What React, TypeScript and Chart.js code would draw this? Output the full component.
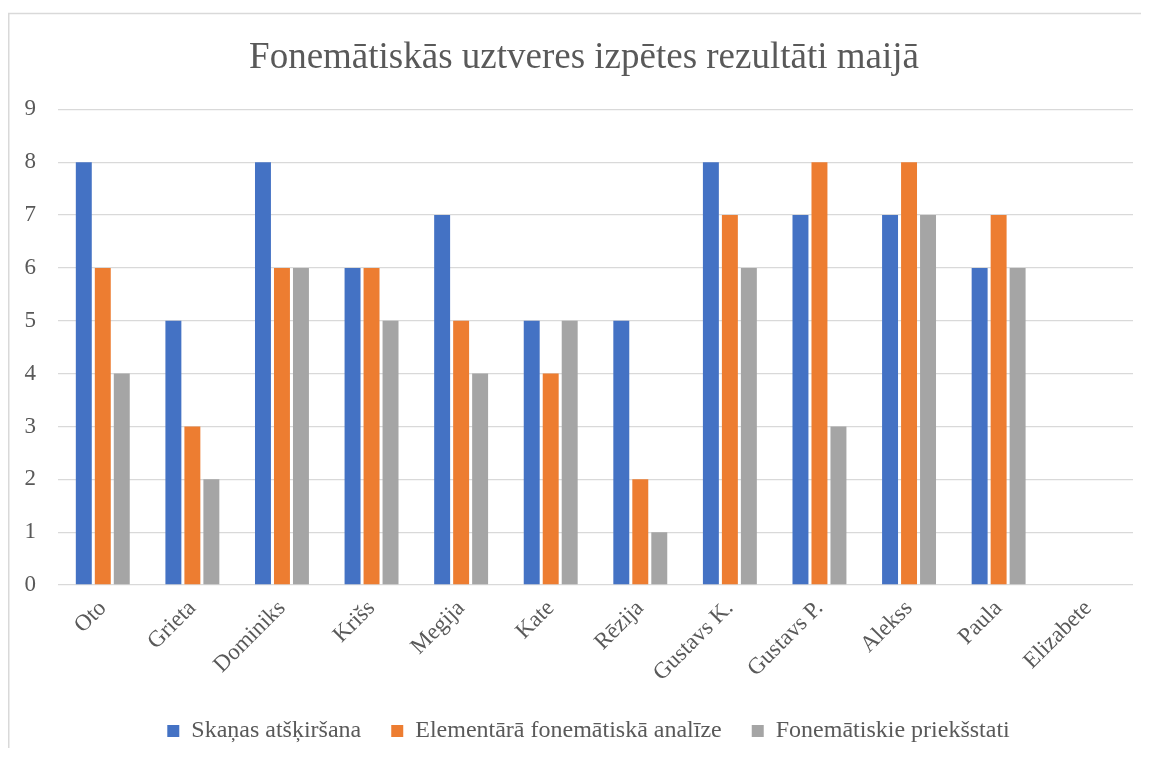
import React, { useEffect, useRef } from "react";
import { Chart, registerables } from "chart.js";

Chart.register(...registerables);

const titleText = "Fonemātiskās uztveres izpētes rezultāti maijā";
const categories = [
  "Oto",
  "Grieta",
  "Dominiks",
  "Krišs",
  "Megija",
  "Kate",
  "Rēzija",
  "Gustavs K.",
  "Gustavs P.",
  "Alekss",
  "Paula",
  "Elizabete",
];
const seriesNames = [
  "Skaņas atšķiršana",
  "Elementārā fonemātiskā analīze",
  "Fonemātiskie priekšstati",
];
const skanasAtskirsana = [8, 5, 8, 6, 7, 5, 5, 8, 7, 7, 6, null];
const elementaraAnalize = [6, 3, 6, 6, 5, 4, 2, 7, 8, 8, 7, null];
const prieksstati = [4, 2, 6, 5, 4, 5, 1, 6, 3, 7, 6, null];
const yMin = 0;
const yMax = 9;
const yStep = 1;

const colors = ["#4472C4", "#ED7D31", "#A5A5A5"];
const textColor = "#595959";
const gridColor = "#D9D9D9";
const fontFamily = "'Liberation Serif', 'Times New Roman', serif";

const framePlugin = {
  id: "frame",
  afterLayout(chart: any) {
    // shift the title and legend blocks to the centre used in the original
    if (chart.titleBlock) {
      chart.titleBlock.left += 13.5;
      chart.titleBlock.right += 13.5;
    }
    if (chart.legend) {
      chart.legend.left += 18;
      chart.legend.right += 18;
    }
  },
  beforeDraw(chart: any) {
    const { ctx, width, height } = chart;
    ctx.save();
    ctx.fillStyle = "#ffffff";
    ctx.fillRect(0, 0, width, height);
    ctx.strokeStyle = gridColor;
    ctx.lineWidth = 1.5;
    ctx.beginPath();
    ctx.moveTo(0.75, height);
    ctx.lineTo(0.75, 5.5);
    ctx.lineTo(width, 5.5);
    ctx.stroke();
    ctx.restore();
  },
};

export default function App() {
  const canvasRef = useRef<HTMLCanvasElement | null>(null);

  useEffect(() => {
    if (!canvasRef.current) return;
    const values = [skanasAtskirsana, elementaraAnalize, prieksstati];
    const chart = new Chart(canvasRef.current, {
      type: "bar",
      data: {
        labels: categories,
        datasets: seriesNames.map((name, i) => ({
          label: name,
          data: values[i],
          backgroundColor: colors[i],
          borderWidth: 0,
          categoryPercentage: 0.636,
          barPercentage: 0.84,
        })),
      },
      plugins: [framePlugin],
      options: {
        animation: false,
        responsive: false,
        maintainAspectRatio: false,
        layout: { padding: { left: 0, right: 16, top: 0, bottom: -5 } },
        plugins: {
          title: {
            display: true,
            text: titleText,
            color: textColor,
            font: { family: fontFamily, size: 37, weight: "normal" },
            padding: { top: 28, bottom: 29 },
          },
          legend: {
            position: "bottom",
            labels: {
              color: textColor,
              font: { family: fontFamily, size: 24 },
              boxWidth: 12,
              boxHeight: 12,
              padding: 30,
            },
          },
          tooltip: { enabled: false },
        },
        scales: {
          x: {
            grid: { display: false, drawTicks: false },
            border: { display: false },
            ticks: {
              color: textColor,
              font: { family: fontFamily, size: 23 },
              minRotation: 45,
              maxRotation: 45,
              padding: 10,
              autoSkip: false,
            },
            afterFit: (scale: any) => {
              scale.height = 104;
            },
          },
          y: {
            min: yMin,
            max: yMax,
            grid: { color: gridColor, lineWidth: 1.3, drawTicks: false },
            border: { display: false },
            ticks: {
              stepSize: yStep,
              color: textColor,
              font: { family: fontFamily, size: 23 },
              padding: 22,
            },
            afterFit: (scale: any) => {
              scale.width = 50;
            },
          },
        },
      },
    });
    return () => chart.destroy();
  }, []);

  return (
    <canvas
      ref={canvasRef}
      width={1141}
      height={740}
      style={{ display: "block", width: 1141, height: 740 }}
    />
  );
}
